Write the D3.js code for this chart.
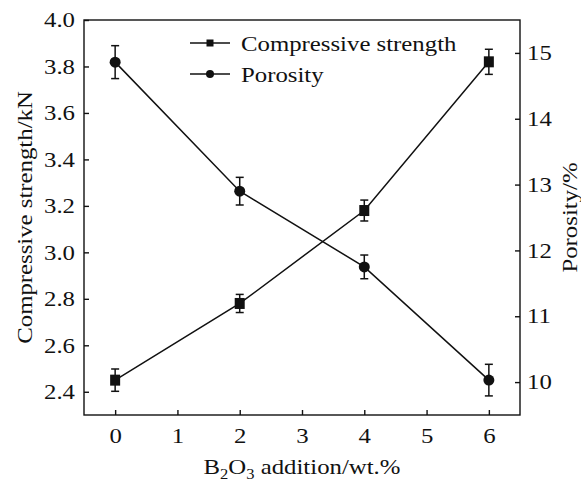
<!DOCTYPE html>
<html>
<head>
<meta charset="utf-8">
<script src="https://cdn.jsdelivr.net/npm/d3@7"></script>
<style>
  body { margin: 0; background: #fff; }
</style>
</head>
<body>
<script>
var width = 581;
var height = 484;
var margin = {left: 84, right: 61, top: 20, bottom: 69};
var fontSize = 21;
var stretch = 1.18; // glyphs in the source are wider than Times

// data
var additions = [0, 2, 4, 6];
var strength = [2.45, 2.78, 3.18, 3.82];
var strengthErr = [0.048, 0.039, 0.045, 0.054];
var porosity = [14.86, 12.9, 11.75, 10.03];
var porosityErr = [0.25, 0.21, 0.18, 0.24];
var xTicks = [0, 1, 2, 3, 4, 5, 6];
var leftTicks = [2.4, 2.6, 2.8, 3.0, 3.2, 3.4, 3.6, 3.8, 4.0];
var rightTicks = [10, 11, 12, 13, 14, 15];
var legendNames = ["Compressive strength", "Porosity"];

var svg = d3.select('body').append('svg')
        .attr('width', width)
        .attr('height', height);

var x = d3.scaleLinear().domain([-0.5, 6.5]).range([margin.left, width - margin.right]);
var yL = d3.scaleLinear().domain([2.3, 4.0]).range([height - margin.bottom, margin.top]);
var yR = d3.scaleLinear().domain([9.5, 15.5]).range([height - margin.bottom, margin.top]);

var stroke = '#111';

// axes (ticks inward)
var bottomAxis = svg.append('g')
        .attr('transform', 'translate(0,' + (height - margin.bottom) + ')')
        .call(d3.axisBottom(x).tickValues(xTicks).tickSizeInner(-5).tickSizeOuter(0).tickPadding(13).tickFormat(d3.format('d')));
var leftAxis = svg.append('g')
        .attr('transform', 'translate(' + margin.left + ',0)')
        .call(d3.axisLeft(yL).tickValues(leftTicks).tickSizeInner(-5).tickSizeOuter(0).tickPadding(9).tickFormat(d3.format('.1f')));
var rightAxis = svg.append('g')
        .attr('transform', 'translate(' + (width - margin.right) + ',0)')
        .call(d3.axisRight(yR).tickValues(rightTicks).tickSizeInner(-5).tickSizeOuter(0).tickPadding(7).tickFormat(d3.format('d')));

[bottomAxis, leftAxis, rightAxis].forEach(function(a) {
    a.select('.domain').remove();
    a.selectAll('line').attr('stroke', stroke).attr('stroke-width', 1.4);
});

// frame
svg.append('rect')
        .attr('x', margin.left)
        .attr('y', margin.top)
        .attr('width', width - margin.left - margin.right)
        .attr('height', height - margin.top - margin.bottom)
        .attr('fill', 'none')
        .attr('stroke', stroke)
        .attr('stroke-width', 1.4);

// lines
var strengthLine = d3.line()
        .x(function(d, i) { return x(additions[i]); })
        .y(function(d) { return yL(d); });
var porosityLine = d3.line()
        .x(function(d, i) { return x(additions[i]); })
        .y(function(d) { return yR(d); });

svg.append('path').attr('d', strengthLine(strength))
        .attr('fill', 'none').attr('stroke', stroke).attr('stroke-width', 1.5);
svg.append('path').attr('d', porosityLine(porosity))
        .attr('fill', 'none').attr('stroke', stroke).attr('stroke-width', 1.5);

// error bars
function errorBars(values, errs, scale) {
    var g = svg.append('g').attr('stroke', stroke).attr('stroke-width', 1.5);
    values.forEach(function(v, i) {
        var cx = x(additions[i]);
        var top = scale(v + errs[i]);
        var bot = scale(v - errs[i]);
        g.append('line').attr('x1', cx).attr('x2', cx).attr('y1', top).attr('y2', bot);
        g.append('line').attr('x1', cx - 4).attr('x2', cx + 4).attr('y1', top).attr('y2', top);
        g.append('line').attr('x1', cx - 4).attr('x2', cx + 4).attr('y1', bot).attr('y2', bot);
    });
}
errorBars(strength, strengthErr, yL);
errorBars(porosity, porosityErr, yR);

// markers
svg.selectAll('.sq').data(strength).enter().append('rect')
        .attr('x', function(d, i) { return x(additions[i]) - 5; })
        .attr('y', function(d) { return yL(d) - 5.5; })
        .attr('width', 10)
        .attr('height', 11)
        .attr('fill', stroke);
svg.selectAll('.ci').data(porosity).enter().append('circle')
        .attr('cx', function(d, i) { return x(additions[i]); })
        .attr('cy', function(d) { return yR(d); })
        .attr('r', 5.5)
        .attr('fill', stroke);

// legend
var legend = svg.append('g');
legendNames.forEach(function(name, i) {
    var ly = 43 + i * 31;
    legend.append('line').attr('x1', 190).attr('x2', 230).attr('y1', ly).attr('y2', ly)
            .attr('stroke', stroke).attr('stroke-width', 1.5);
    if (i === 0) {
        legend.append('rect').attr('x', 206.5).attr('y', ly - 3.5).attr('width', 7).attr('height', 7).attr('fill', stroke);
    } else {
        legend.append('circle').attr('cx', 210).attr('cy', ly).attr('r', 4).attr('fill', stroke);
    }
    legend.append('text').attr('x', 241).attr('y', ly + 8)
            .text(name);
});

// axis titles
var midY = margin.top + (height - margin.top - margin.bottom) / 2;
svg.append('text')
        .attr('transform', 'translate(32,' + midY + ') rotate(-90)')
        .attr('text-anchor', 'middle')
        .text('Compressive strength/kN');

svg.append('text')
        .attr('transform', 'translate(577,' + midY + ') rotate(-90)')
        .attr('text-anchor', 'middle')
        .text('Porosity/%');

var xt = svg.append('text')
        .attr('x', margin.left + (width - margin.left - margin.right) / 2)
        .attr('y', 474)
        .attr('text-anchor', 'middle');
xt.append('tspan').text('B');
xt.append('tspan').style('font-size', '14px').attr('dy', 5).text('2');
xt.append('tspan').attr('dy', -5).text('O');
xt.append('tspan').style('font-size', '14px').attr('dy', 5).text('3');
xt.append('tspan').attr('dy', -5).text(' addition/wt.%');

// font for every text, then widen glyphs like the source
svg.selectAll('text')
        .style('font-family', 'Liberation Serif')
        .style('font-size', function() { return this.style.fontSize || (fontSize + 'px'); })
        .attr('fill', '#111');
svg.selectAll('text').each(function() {
    var len = this.getComputedTextLength();
    d3.select(this)
        .attr('textLength', len * stretch)
        .attr('lengthAdjust', 'spacingAndGlyphs');
});
</script>
</body>
</html>
